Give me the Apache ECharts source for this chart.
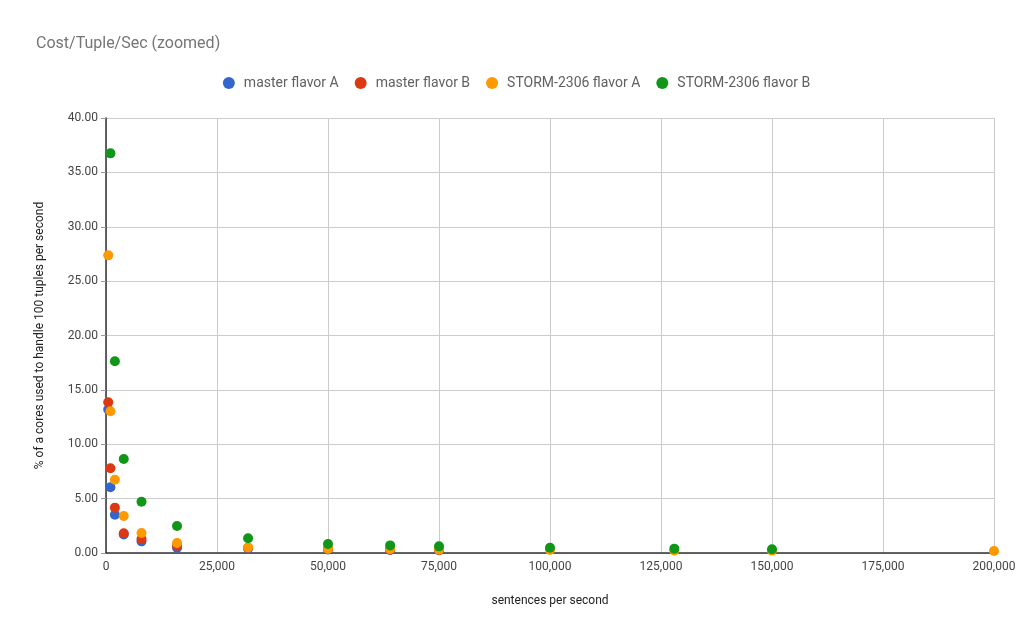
<!DOCTYPE html>
<html><head><meta charset="utf-8">
<script src="https://cdn.jsdelivr.net/npm/echarts@6/dist/echarts.min.js"></script>
<style>html,body{margin:0;padding:0;background:#fff}#c{width:1033px;height:639px}</style>
</head><body><div id="c"></div>
<script>
const seriesNames = ["master flavor A", "master flavor B", "STORM-2306 flavor A", "STORM-2306 flavor B"];
const colors = ["#3366cc", "#dc3912", "#ff9900", "#109618"];
const masterAX = [500, 1000, 2000, 4000, 8000, 16000, 32000, 50000, 64000, 75000];
const masterAY = [13.2, 6.04, 3.52, 1.70, 1.07, 0.49, 0.42, 0.33, 0.28, 0.25];
const masterBX = [500, 1000, 2000, 4000, 8000, 16000, 32000, 50000, 64000, 75000];
const masterBY = [13.86, 7.79, 4.17, 1.81, 1.29, 0.67, 0.48, 0.36, 0.31, 0.27];
const stormAX = [500, 1000, 2000, 4000, 8000, 16000, 32000, 50000, 64000, 75000, 100000, 128000, 150000, 200000];
const stormAY = [27.37, 13.03, 6.74, 3.40, 1.84, 0.92, 0.52, 0.40, 0.34, 0.30, 0.28, 0.24, 0.22, 0.18];
const stormBX = [1000, 2000, 4000, 8000, 16000, 32000, 50000, 64000, 75000, 100000, 128000, 150000];
const stormBY = [36.75, 17.63, 8.64, 4.72, 2.48, 1.35, 0.83, 0.70, 0.61, 0.49, 0.40, 0.34];
const xTicks = [0, 25000, 50000, 75000, 100000, 125000, 150000, 175000, 200000];
const yTicks = [0, 5, 10, 15, 20, 25, 30, 35, 40];

const pairs = (xs, ys) => xs.map((x, i) => [x, ys[i]]);
const allData = [pairs(masterAX, masterAY), pairs(masterBX, masterBY), pairs(stormAX, stormAY), pairs(stormBX, stormBY)];

const chart = echarts.init(document.getElementById('c'));
chart.setOption({
  animation: false,
  color: colors,
  title: {
    text: 'Cost/Tuple/Sec (zoomed)', left: 31, top: 31,
    textStyle: { fontFamily: 'Roboto', fontSize: 16, fontWeight: 'normal', color: '#757575' }
  },
  legend: {
    data: seriesNames, top: 71, left: 'center', itemGap: 16, itemWidth: 12, itemHeight: 12,
    icon: 'circle',
    textStyle: { fontFamily: 'Roboto', fontSize: 14, color: '#616161', padding: [0, 0, 0, 4] }
  },
  grid: { left: 106, right: 39, top: 118, bottom: 86 },
  xAxis: {
    type: 'value', min: xTicks[0], max: xTicks[xTicks.length - 1], interval: 25000,
    name: 'sentences per second', nameLocation: 'middle', nameGap: 42,
    nameTextStyle: { fontFamily: 'Roboto', fontSize: 12, color: '#222' },
    axisLine: { show: true, lineStyle: { color: '#333', width: 1.5 } },
    axisTick: { show: false },
    axisLabel: { fontFamily: 'Roboto', fontSize: 12, color: '#444', margin: 8,
      formatter: v => v.toLocaleString('en-US') },
    splitLine: { show: true, lineStyle: { color: '#cccccc' } }
  },
  yAxis: {
    type: 'value', min: yTicks[0], max: yTicks[yTicks.length - 1], interval: 5,
    name: '% of a cores used to handle 100 tuples per second', nameLocation: 'middle', nameGap: 60,
    nameTextStyle: { fontFamily: 'Roboto', fontSize: 12, color: '#222' },
    axisLine: { show: true, lineStyle: { color: '#333', width: 1.5 } },
    axisTick: { show: true, length: 5, lineStyle: { color: '#999' } },
    axisLabel: { fontFamily: 'Roboto', fontSize: 12, color: '#444', margin: 8,
      formatter: v => v.toFixed(2) },
    splitLine: { show: true, lineStyle: { color: '#cccccc' } }
  },
  series: seriesNames.map((n, i) => ({
    name: n, type: 'scatter', symbolSize: 10, data: allData[i],
    itemStyle: { color: colors[i], opacity: 1 }
  }))
});
</script></body></html>
